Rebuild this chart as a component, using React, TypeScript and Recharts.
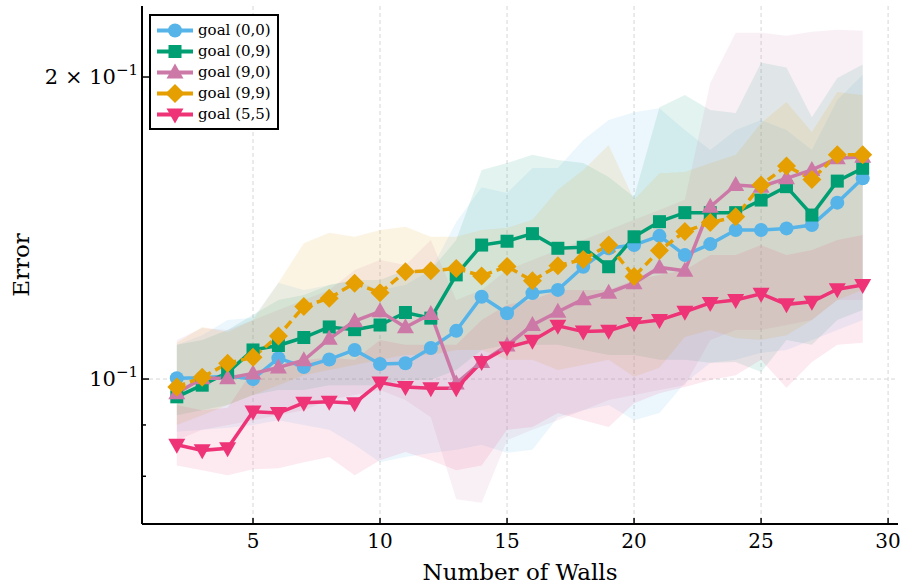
import React from 'react'
import { ComposedChart, Line, Area, XAxis, YAxis, CartesianGrid, Legend } from 'recharts'

const walls = [2, 3, 4, 5, 6, 7, 8, 9, 10, 11, 12, 13, 14, 15, 16, 17, 18, 19, 20, 21, 22, 23, 24, 25, 26, 27, 28, 29]

const goal00 = [0.1002, 0.1003, 0.1007, 0.1, 0.1049, 0.1028, 0.1046, 0.1069, 0.1035, 0.1037, 0.1074, 0.1117, 0.1208, 0.1163, 0.1218, 0.1227, 0.1294, 0.135, 0.136, 0.1389, 0.1329, 0.1363, 0.1408, 0.1408, 0.1413, 0.1424, 0.1499, 0.1585]
const goal00Lo = [0.0886, 0.089, 0.0894, 0.09, 0.091, 0.09, 0.089, 0.086, 0.0826, 0.0836, 0.0844, 0.085, 0.086, 0.0844, 0.085, 0.0916, 0.0931, 0.0942, 0.091, 0.0925, 0.0991, 0.1038, 0.1045, 0.1062, 0.1069, 0.1094, 0.1119, 0.1145]
const goal00Hi = [0.1082, 0.1106, 0.1145, 0.1151, 0.1247, 0.1227, 0.1241, 0.1255, 0.1227, 0.1241, 0.1284, 0.1434, 0.1553, 0.1533, 0.1623, 0.1623, 0.1731, 0.1812, 0.1845, 0.1862, 0.1771, 0.1692, 0.1771, 0.1812, 0.1771, 0.1692, 0.1897, 0.201]

const goal09 = [0.096, 0.0986, 0.1015, 0.1069, 0.108, 0.11, 0.1127, 0.112, 0.1132, 0.1165, 0.115, 0.127, 0.136, 0.1372, 0.1396, 0.135, 0.1353, 0.1294, 0.1386, 0.1435, 0.1465, 0.1465, 0.1465, 0.1508, 0.1555, 0.1457, 0.1575, 0.1622]
const goal09Lo = [0.092, 0.0931, 0.0942, 0.0964, 0.0975, 0.0975, 0.0986, 0.0986, 0.0986, 0.0998, 0.0998, 0.1021, 0.1069, 0.1082, 0.1082, 0.1082, 0.1069, 0.1057, 0.1057, 0.1045, 0.1045, 0.1038, 0.104, 0.1016, 0.1094, 0.1082, 0.1145, 0.1172]
const goal09Hi = [0.1082, 0.1094, 0.1119, 0.1159, 0.1199, 0.1213, 0.1241, 0.1255, 0.1255, 0.1284, 0.1284, 0.1376, 0.1616, 0.1642, 0.1673, 0.1653, 0.1642, 0.159, 0.1519, 0.1866, 0.1919, 0.1854, 0.1841, 0.2067, 0.2044, 0.1824, 0.1996, 0.2058]

const goal90 = [0.0968, 0.1002, 0.1002, 0.1013, 0.1027, 0.1044, 0.1097, 0.1142, 0.1168, 0.1126, 0.1161, 0.099, 0.104, 0.108, 0.1132, 0.1167, 0.1201, 0.1219, 0.1246, 0.1292, 0.1282, 0.1485, 0.1561, 0.1555, 0.1585, 0.1616, 0.166, 0.1666]
const goal90Lo = [0.0869, 0.089, 0.09, 0.091, 0.092, 0.0931, 0.0953, 0.0964, 0.0975, 0.0953, 0.0916, 0.0759, 0.0753, 0.0869, 0.089, 0.091, 0.0931, 0.0953, 0.0964, 0.0975, 0.0986, 0.1094, 0.1119, 0.1119, 0.1132, 0.1145, 0.1199, 0.1199]
const goal90Hi = [0.1094, 0.1124, 0.1119, 0.1145, 0.1172, 0.1199, 0.1227, 0.1284, 0.1314, 0.1299, 0.1376, 0.1199, 0.1227, 0.1284, 0.1314, 0.1345, 0.1376, 0.1408, 0.1441, 0.1474, 0.1509, 0.1973, 0.2214, 0.2214, 0.2199, 0.2219, 0.2229, 0.2224]

const goal99 = [0.0982, 0.1004, 0.1037, 0.1051, 0.1104, 0.1181, 0.1204, 0.1246, 0.1219, 0.1279, 0.1282, 0.1289, 0.1267, 0.1295, 0.1253, 0.1297, 0.1316, 0.136, 0.1265, 0.1343, 0.1403, 0.1432, 0.1451, 0.1561, 0.1631, 0.1581, 0.1673, 0.1673]
const goal99Lo = [0.09, 0.092, 0.0942, 0.0964, 0.0986, 0.1009, 0.1021, 0.1033, 0.1045, 0.1057, 0.1057, 0.1069, 0.1069, 0.1045, 0.1045, 0.1021, 0.1033, 0.1045, 0.1005, 0.1026, 0.1101, 0.1119, 0.1099, 0.1094, 0.1106, 0.1145, 0.1199, 0.1227]
const goal99Hi = [0.1087, 0.1127, 0.1114, 0.1145, 0.1247, 0.1366, 0.1399, 0.1386, 0.1408, 0.1418, 0.1386, 0.1386, 0.1408, 0.1415, 0.1441, 0.1544, 0.1616, 0.1711, 0.1509, 0.1604, 0.1608, 0.1642, 0.1673, 0.18, 0.1888, 0.1763, 0.1932, 0.1919]

const goal55 = [0.086, 0.0849, 0.0853, 0.0928, 0.0925, 0.0947, 0.0949, 0.0946, 0.0992, 0.0982, 0.0979, 0.0979, 0.104, 0.1075, 0.1092, 0.113, 0.1115, 0.1117, 0.1137, 0.1145, 0.1167, 0.1191, 0.1199, 0.1216, 0.1187, 0.1194, 0.1229, 0.1241]
const goal55Lo = [0.082, 0.0811, 0.0802, 0.0813, 0.0815, 0.0826, 0.0836, 0.0802, 0.083, 0.0846, 0.083, 0.0811, 0.082, 0.089, 0.0896, 0.0925, 0.091, 0.0896, 0.0946, 0.0968, 0.0982, 0.0998, 0.1009, 0.1045, 0.098, 0.104, 0.1082, 0.1087]
const goal55Hi = [0.0942, 0.0931, 0.0936, 0.1021, 0.1016, 0.1045, 0.105, 0.1045, 0.1094, 0.1082, 0.1082, 0.1082, 0.1145, 0.1186, 0.1199, 0.1227, 0.1227, 0.1227, 0.1255, 0.127, 0.1284, 0.1329, 0.1329, 0.136, 0.1329, 0.1345, 0.1376, 0.1392]

const xTicks = [5, 10, 15, 20, 25, 30]
const yTicks = [0.08, 0.09, 0.1, 0.2]

const series = [
  { key: 'g00', name: 'goal (0,0)', color: '#56B4E9', marker: 'circle', mean: goal00, lo: goal00Lo, hi: goal00Hi },
  { key: 'g09', name: 'goal (0,9)', color: '#009E73', marker: 'square', mean: goal09, lo: goal09Lo, hi: goal09Hi },
  { key: 'g90', name: 'goal (9,0)', color: '#CC79A7', marker: 'utriangle', mean: goal90, lo: goal90Lo, hi: goal90Hi },
  { key: 'g99', name: 'goal (9,9)', color: '#E69F00', marker: 'diamond', mean: goal99, lo: goal99Lo, hi: goal99Hi, dashed: true },
  { key: 'g55', name: 'goal (5,5)', color: '#EE3377', marker: 'dtriangle', mean: goal55, lo: goal55Lo, hi: goal55Hi },
]

const data = walls.map((w, i) => {
  const row: Record<string, any> = { x: w }
  series.forEach((s) => {
    row[s.key] = s.mean[i]
    row[s.key + 'Band'] = [s.lo[i], s.hi[i]]
  })
  return row
})

const FONT = '"DejaVu Serif"'

function Marker({ cx, cy, shape, color }: { cx: number; cy: number; shape: string; color: string }) {
  if (cx == null || cy == null) return null
  switch (shape) {
    case 'circle':
      return <circle cx={cx} cy={cy} r={7} fill={color} />
    case 'square':
      return <rect x={cx - 6.5} y={cy - 6.5} width={13} height={13} fill={color} />
    case 'utriangle':
      return <polygon points={`${cx},${cy - 9} ${cx + 8.5},${cy + 6} ${cx - 8.5},${cy + 6}`} fill={color} />
    case 'dtriangle':
      return <polygon points={`${cx},${cy + 9} ${cx + 8.5},${cy - 6} ${cx - 8.5},${cy - 6}`} fill={color} />
    case 'diamond':
      return <polygon points={`${cx},${cy - 9.5} ${cx + 9.5},${cy} ${cx},${cy + 9.5} ${cx - 9.5},${cy}`} fill={color} />
    default:
      return null
  }
}

const XTick = (props: any) => {
  const { x, y, payload } = props
  return (
    <g>
      <line x1={x} x2={x} y1={y} y2={y - 6} stroke="#000" strokeWidth={1.5} />
      <text x={x} y={y + 24} textAnchor="middle" fontSize={20} fill="#000" style={{ fontFamily: FONT }}>
        {payload.value}
      </text>
    </g>
  )
}

const YTick = (props: any) => {
  const { x, y, payload } = props
  const v = payload.value
  const major = v === 0.1 || v === 0.2
  return (
    <g>
      <line x1={x} x2={x + (major ? 7 : 4)} y1={y} y2={y} stroke="#000" strokeWidth={1.5} />
      {major && (
        <text x={x - 4} y={y + 7} textAnchor="end" fontSize={21} fill="#000" style={{ fontFamily: FONT }}>
          {v === 0.2 ? '2 × 10' : '10'}
          <tspan dy={-9} fontSize={15}>−1</tspan>
        </text>
      )}
    </g>
  )
}

const renderLegend = () => (
  <div
    style={{
      border: '2px solid #000',
      background: '#fff',
      padding: '4px 6px 3px 5px',
      fontFamily: FONT,
      fontSize: 15,
      lineHeight: '21px',
      color: '#000',
    }}
  >
    {series.map((s) => (
      <div key={s.key} style={{ display: 'flex', alignItems: 'center', height: 21 }}>
        <svg width={38} height={21} style={{ marginRight: 4 }}>
          <line x1={1} x2={37} y1={10.5} y2={10.5} stroke={s.color} strokeWidth={4} />
          <Marker cx={19} cy={10.5} shape={s.marker} color={s.color} />
        </svg>
        <span style={{ whiteSpace: 'nowrap', fontFamily: FONT }}>{s.name}</span>
      </div>
    ))}
  </div>
)

export default function App() {
  return (
    <div style={{ position: 'absolute', left: 0, top: 0, width: 904, height: 586, background: '#fff', fontFamily: FONT }}>
      <ComposedChart width={904} height={586} data={data} margin={{ top: 6, right: 6, left: 0, bottom: 0 }}>
        <CartesianGrid
          stroke="#d6d6d6"
          strokeDasharray="4 3"
          verticalValues={xTicks}
          horizontalValues={[0.1]}
        />
        <XAxis
          dataKey="x"
          type="number"
          domain={[0.63, 30.39]}
          allowDataOverflow
          ticks={xTicks}
          interval={0}
          height={62}
          tickSize={0}
          tickMargin={0}
          tick={<XTick />}
          axisLine={{ stroke: '#000', strokeWidth: 2 }}
          label={{ value: 'Number of Walls', position: 'insideBottom', offset: 6, fontSize: 23, fill: '#000', style: { fontFamily: FONT } }}
        />
        <YAxis
          type="number"
          scale="log"
          domain={[0.0717, 0.2354]}
          allowDataOverflow
          ticks={yTicks}
          interval={0}
          width={142}
          tickSize={0}
          tickMargin={0}
          tick={<YTick />}
          axisLine={{ stroke: '#000', strokeWidth: 2 }}
          label={{
            content: (p: any) => {
              const vb = p.viewBox
              const cy = vb.y + vb.height / 2
              return (
                <text x={29} y={cy} transform={`rotate(-90 29 ${cy})`} textAnchor="middle" fontSize={23} fill="#000" style={{ fontFamily: FONT }}>
                  Error
                </text>
              )
            },
          }}
        />
        {series.map((s) => [
          <Area
            key={s.key + 'Band'}
            type="linear"
            dataKey={s.key + 'Band'}
            stroke="none"
            fill={s.color}
            fillOpacity={0.11}
            isAnimationActive={false}
            legendType="none"
            activeDot={false}
          />,
          <Line
            key={s.key}
            type="linear"
            dataKey={s.key}
            name={s.name}
            stroke={s.color}
            strokeWidth={3.5}
            strokeDasharray={s.dashed ? '9 5' : undefined}
            isAnimationActive={false}
            activeDot={false}
            dot={(p: any) => <Marker key={s.key + '-' + p.index} cx={p.cx} cy={p.cy} shape={s.marker} color={s.color} />}
          />,
        ])}
        <Legend
          layout="vertical"
          align="center"
          verticalAlign="middle"
          content={renderLegend}
          wrapperStyle={{ position: 'absolute', left: 149, top: 14, width: 'auto', height: 'auto' }}
        />
      </ComposedChart>
    </div>
  )
}
